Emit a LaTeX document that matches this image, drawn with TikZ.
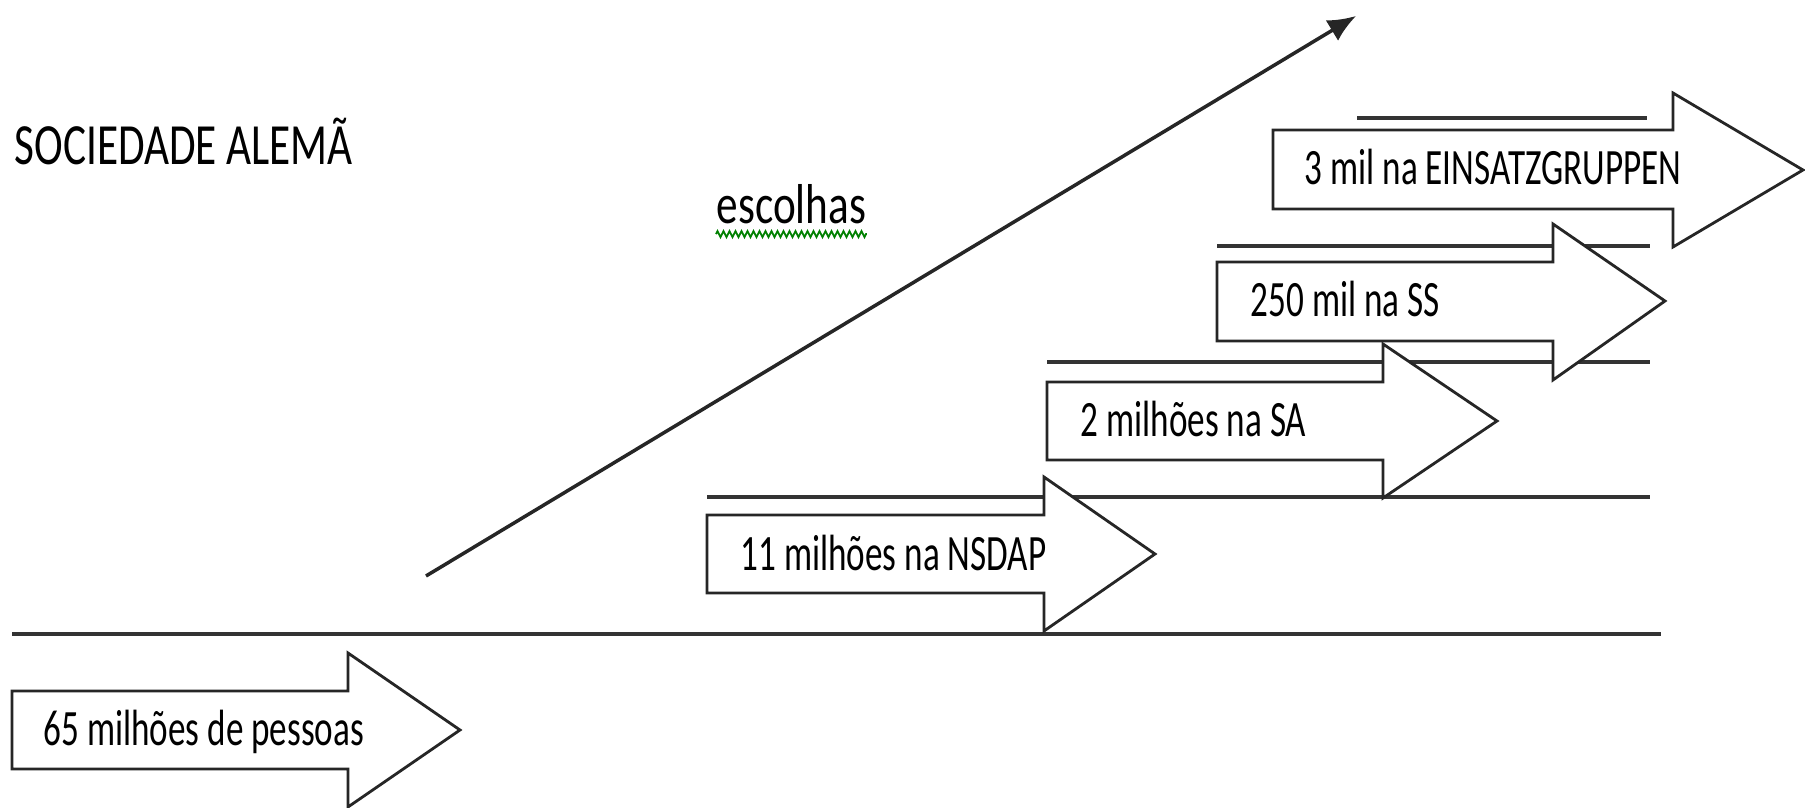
\documentclass[tikz,border=0pt]{standalone}
\usepackage{fontspec}
\setmainfont{Carlito}
\usepackage{graphicx}
\usetikzlibrary{arrows.meta,decorations.pathmorphing}
\tikzset{>={Latex[length=2.8mm,width=2.4mm]}}
\tikzset{
	linha/.style={line width=0.9pt,draw=black!80},
	seta/.style={line width=0.8pt,draw=black!85,fill=white,line join=miter},
	rotulo/.style={anchor=base west,inner sep=0pt,font=\fontsize{10pt}{12pt}\selectfont},
	titulo/.style={anchor=base west,inner sep=0pt,font=\fontsize{12.3pt}{14pt}\selectfont}
}
\newcommand{\alto}[2][1.45]{\scalebox{1}[#1]{#2}}

\begin{document}
\begin{tikzpicture}[x=0.1mm,y=-0.1mm]
	\useasboundingbox (0,0) rectangle (1805,808);

	\draw[linha] (12,634)--(1661,634);
	\draw[linha] (707,497)--(1650,497);
	\draw[linha] (1047,362)--(1650,362);
	\draw[linha] (1217,246)--(1650,246);
	\draw[linha] (1357,118)--(1647,118);

	\draw[seta] (12,691)--(348,691)--(348,653)--(460,730)--(348,807)--(348,769)--(12,769)--cycle;
	\draw[seta] (707,515)--(1044,515)--(1044,477)--(1155,554)--(1044,631)--(1044,593)--(707,593)--cycle;
	\draw[seta] (1047,382)--(1383,382)--(1383,344)--(1497,421)--(1383,498)--(1383,460)--(1047,460)--cycle;
	\draw[seta] (1217,262)--(1553,262)--(1553,224)--(1665,301)--(1553,380)--(1553,341)--(1217,341)--cycle;
	\draw[seta] (1273,130)--(1673,130)--(1673,93)--(1803,170)--(1673,247)--(1673,209)--(1273,209)--cycle;

	\node[rotulo] (pessoas) at (43,745) {\alto{65 milhões de pessoas}};
	\node[rotulo] (nsdap) at (740,571) {\alto{11 milhões na NSDAP}};
	\node[rotulo] (sa) at (1080,437) {\alto{2 milhões na SA}};
	\node[rotulo] (ss) at (1250,317) {\alto{250 mil na SS}};
	\node[rotulo] (einsatz) at (1304,185) {\alto{3 mil na EINSATZGRUPPEN}};

	\node[titulo] (sociedade) at (14,165) {\alto[1.35]{SOCIEDADE ALEMÃ}};
	\node[titulo] (escolhas) at (716,224) {\alto[1.3]{escolhas}};
	\draw[green!50!black,line width=0.5pt,decorate,decoration={zigzag,amplitude=0.3mm,segment length=0.6mm}]
		([yshift=-0.9mm]escolhas.south west)--([yshift=-0.9mm]escolhas.south east);

	\coordinate (inicio) at (426,576);
	\coordinate (fim) at (1356,16);
	\draw[->,line width=1pt,black!85] (inicio)--(fim);

\end{tikzpicture}
\end{document}
